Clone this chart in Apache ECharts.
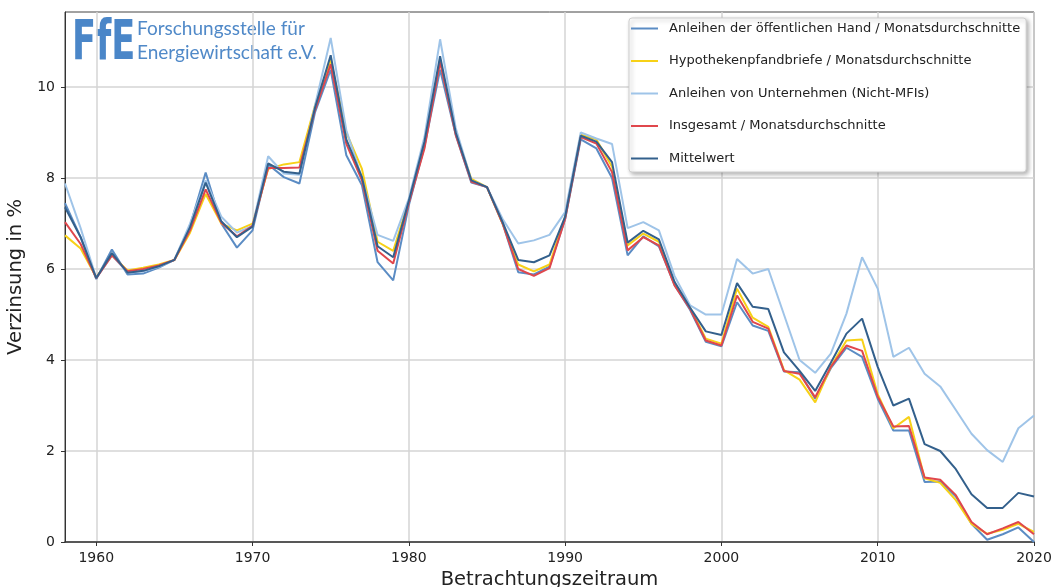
<!DOCTYPE html>
<html>
<head>
<meta charset="utf-8">
<script src="https://cdn.jsdelivr.net/npm/echarts@6/dist/echarts.min.js"></script>
<style>html,body{margin:0;padding:0;background:#fff;}#c{width:1055px;height:587px;}</style>
</head>
<body>
<div id="c"></div>
<script>
const years = [
  1958,1959,1960,1961,1962,1963,1964,1965,1966,1967,
  1968,1969,1970,1971,1972,1973,1974,1975,1976,1977,
  1978,1979,1980,1981,1982,1983,1984,1985,1986,1987,
  1988,1989,1990,1991,1992,1993,1994,1995,1996,1997,
  1998,1999,2000,2001,2002,2003,2004,2005,2006,2007,
  2008,2009,2010,2011,2012,2013,2014,2015,2016,2017,
  2018,2019,2020
];
const xTicks = [1960,1970,1980,1990,2000,2010,2020];
const yTicks = [0,2,4,6,8,10];

const oeffentlich = [
  7.45,6.7,5.78,6.43,5.88,5.9,6.03,6.2,6.95,8.12,
  7.0,6.47,6.85,8.3,8.02,7.88,9.45,10.38,8.5,7.84,
  6.15,5.75,7.4,8.7,10.38,8.95,7.9,7.8,7.0,5.93,
  5.88,6.05,7.1,8.85,8.65,8.0,6.3,6.72,6.5,5.65,
  5.1,4.4,4.3,5.27,4.76,4.64,3.75,3.73,3.15,3.82,
  4.27,4.07,3.15,2.45,2.45,1.32,1.33,1.0,0.4,0.05,
  0.17,0.32,0.0
];
const hypothek = [
  6.74,6.45,5.82,6.3,5.97,6.03,6.1,6.2,6.8,7.65,
  7.0,6.85,7.0,8.2,8.3,8.35,9.6,10.6,9.0,8.2,
  6.6,6.4,7.5,8.8,10.6,9.0,7.98,7.8,7.0,6.1,
  5.95,6.1,7.15,8.95,8.85,8.25,6.52,6.78,6.6,5.68,
  5.15,4.47,4.36,5.57,4.93,4.73,3.78,3.57,3.07,3.85,
  4.43,4.45,3.25,2.5,2.75,1.4,1.3,0.92,0.4,0.18,
  0.27,0.4,0.22
];
const unternehmen = [
  7.88,6.9,5.8,6.3,5.92,5.95,6.05,6.2,7.0,7.95,
  7.15,6.8,6.95,8.48,8.1,8.07,9.6,11.08,9.05,8.0,
  6.75,6.62,7.55,8.9,11.05,9.1,7.95,7.8,7.1,6.56,
  6.63,6.75,7.25,9.0,8.87,8.75,6.9,7.03,6.85,5.85,
  5.2,5.0,5.0,6.22,5.9,6.0,5.0,4.0,3.72,4.14,
  5.02,6.26,5.57,4.07,4.27,3.7,3.42,2.9,2.38,2.02,
  1.76,2.5,2.78
];
const insgesamt = [
  7.03,6.55,5.8,6.3,5.95,6.0,6.08,6.2,6.85,7.75,
  7.02,6.72,6.95,8.22,8.22,8.23,9.5,10.5,8.75,7.95,
  6.4,6.12,7.45,8.65,10.55,8.95,7.92,7.8,7.0,6.0,
  5.85,6.02,7.1,8.9,8.76,8.13,6.41,6.7,6.52,5.64,
  5.12,4.43,4.32,5.42,4.84,4.69,3.76,3.7,3.18,3.85,
  4.32,4.2,3.2,2.54,2.55,1.42,1.37,1.03,0.44,0.17,
  0.3,0.44,0.17
];
const mittelwert = [
  7.36,6.7,5.8,6.35,5.92,5.96,6.06,6.2,6.92,7.9,
  7.05,6.7,6.93,8.32,8.14,8.1,9.55,10.7,8.85,8.02,
  6.5,6.26,7.5,8.8,10.68,9.0,7.95,7.8,7.03,6.2,
  6.15,6.3,7.15,8.93,8.8,8.35,6.58,6.84,6.65,5.72,
  5.15,4.63,4.55,5.69,5.17,5.12,4.17,3.76,3.32,3.94,
  4.58,4.91,3.85,3.0,3.15,2.15,2.0,1.6,1.05,0.75,
  0.75,1.08,1.0
];

const seriesDefs = [
  {name:'Anleihen der öffentlichen Hand / Monatsdurchschnitte', data: oeffentlich, color:'#5b8cc4'},
  {name:'Hypothekenpfandbriefe / Monatsdurchschnitte', data: hypothek, color:'#f7d117'},
  {name:'Anleihen von Unternehmen (Nicht-MFIs)', data: unternehmen, color:'#9fc4e8'},
  {name:'Insgesamt / Monatsdurchschnitte', data: insgesamt, color:'#e0474c'},
  {name:'Mittelwert', data: mittelwert, color:'#33608c'}
];

const chart = echarts.init(document.getElementById('c'), null, {renderer:'canvas'});
const font = 'DejaVu Sans';
chart.setOption({
  animation:false,
  backgroundColor:'#fff',
  grid:{left:65, right:21, top:12, bottom:45, outerBoundsMode:'none', containLabel:false,
        show:true, borderColor:'#444', borderWidth:1, backgroundColor:'transparent'},
  xAxis:{
    type:'value', min:1958, max:2020,
    name:'Betrachtungszeitraum', nameLocation:'middle', nameGap:25,
    nameTextStyle:{fontFamily:font, fontSize:19.5, color:'#222'},
    axisLine:{show:true, onZero:false, lineStyle:{color:'#333', width:1.5}},
    axisTick:{show:true, length:4, customValues:xTicks, lineStyle:{color:'#333'}},
    axisLabel:{customValues:xTicks, formatter:(v)=>String(v), fontFamily:font, fontSize:14, color:'#222', margin:9},
    splitLine:{show:true, lineStyle:{color:'#d4d4d4', width:1.5}}
  },
  yAxis:{
    type:'value', min:0, max:11.65,
    name:'Verzinsung in %', nameLocation:'middle', nameGap:31,
    nameTextStyle:{fontFamily:font, fontSize:19.5, color:'#222'},
    axisLine:{show:true, lineStyle:{color:'#333', width:1}},
    axisTick:{show:true, length:4, customValues:yTicks, lineStyle:{color:'#333'}},
    axisLabel:{customValues:yTicks, formatter:(v)=>String(v), fontFamily:font, fontSize:14, color:'#222', margin:10},
    splitLine:{show:true, lineStyle:{color:'#d4d4d4', width:1.5}}
  },
  legend:{
    orient:'vertical', left:629, top:18,
    padding:[4,6,7,2],
    itemWidth:27, itemHeight:14, itemGap:19.5,
    icon:'path://M0,0H27V2H0Z', symbolKeepAspect:true,
    backgroundColor:'#fff', borderColor:'#cfcfcf', borderWidth:1, borderRadius:3,
    shadowBlur:4, shadowOffsetX:2, shadowOffsetY:2, shadowColor:'rgba(0,0,0,0.3)',
    textStyle:{fontFamily:font, fontSize:13, color:'#222', padding:[0,0,0,6]},
    data: seriesDefs.map(s=>s.name)
  },
  graphic:[
    {type:'text', left:72, top:17, scaleX:0.64, style:{text:'FfE', fontFamily:font, fontWeight:'bold', fontSize:55, fill:'#4a86c8'}},
    {type:'text', left:137, top:19, style:{text:'Forschungsstelle für', fontFamily:'Lato', fontSize:19, fill:'#5089c8'}},
    {type:'text', left:137, top:43, style:{text:'Energiewirtschaft e.V.', fontFamily:'Lato', fontSize:19, fill:'#5089c8'}}
  ],
  series: seriesDefs.map(s=>({
    name:s.name, type:'line',
    data: years.map((y,i)=>[y, s.data[i]]),
    symbol:'none', showSymbol:false,
    lineStyle:{color:s.color, width:2},
    itemStyle:{color:s.color},
    emphasis:{disabled:true}
  }))
});
</script>
</body>
</html>
